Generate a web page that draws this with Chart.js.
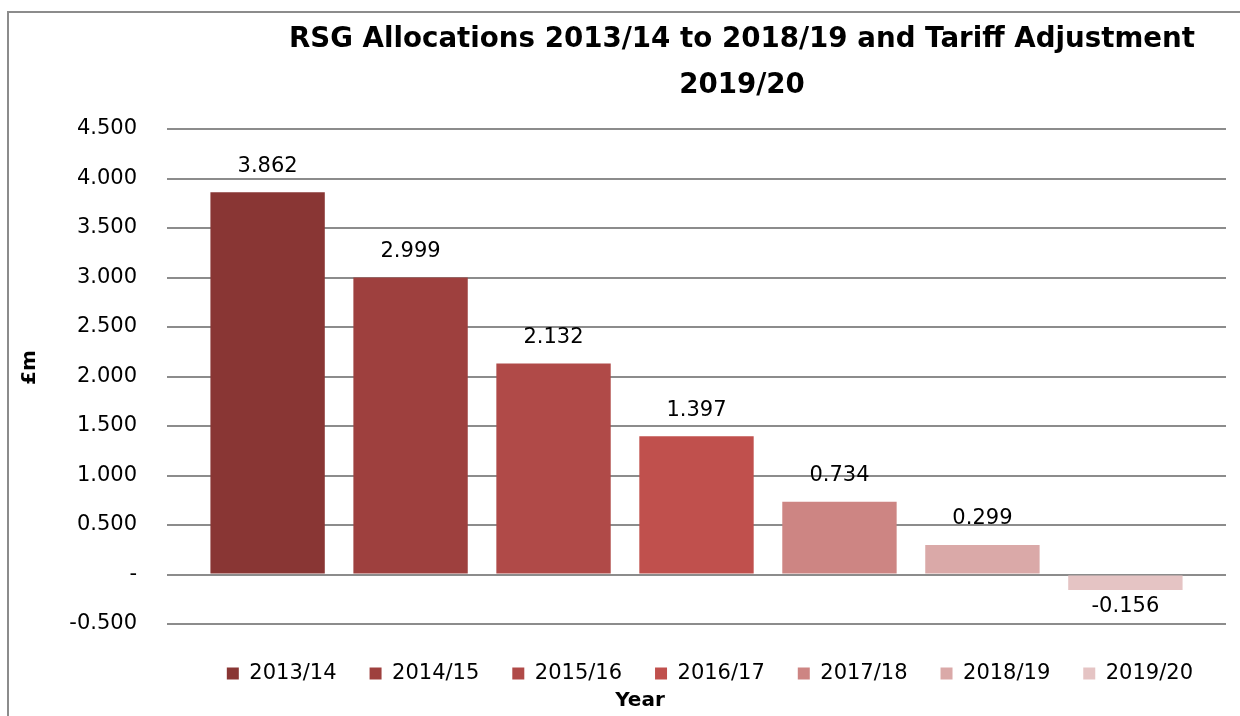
<!DOCTYPE html>
<html>
<head>
<meta charset="utf-8">
<script src="https://cdn.jsdelivr.net/npm/chart.js@4/dist/chart.umd.min.js"></script>
<style>
  html, body { margin: 0; padding: 0; background: #fff; }
  #wrap { position: absolute; left: 0; top: 0; width: 1240px; height: 716px; }
  #frame { position: absolute; left: 7px; top: 11px; width: 1300px; height: 800px;
           border-left: 2px solid #8c8c8c; border-top: 2px solid #8c8c8c; pointer-events: none; }
</style>
</head>
<body>
<div id="wrap">
  <canvas id="rsgChart" width="1240" height="716"></canvas>
  <div id="frame"></div>
</div>
<script>
// data
var years = ['2013/14', '2014/15', '2015/16', '2016/17', '2017/18', '2018/19', '2019/20'];
var allocations = [3.862, 2.999, 2.132, 1.397, 0.734, 0.299, -0.156];
var barColours = ['#893634', '#9e403e', '#b04a48', '#c0504d', '#cd8583', '#daa9a8', '#e5c4c4'];
var titleLines = ['RSG Allocations 2013/14 to 2018/19 and Tariff Adjustment', '2019/20'];

var fontName = '"DejaVu Sans", sans-serif';

var datasets = years.map(function(y, i) {
    return {
        label: y,
        data: [allocations[i]],
        backgroundColor: barColours[i],
        borderWidth: 0,
        barPercentage: 0.8,
        categoryPercentage: 0.945
    };
});

// value labels above (or below) each bar
var valueLabels = {
    id: 'valueLabels',
    afterDatasetsDraw: function(chart) {
        var ctx = chart.ctx;
        ctx.save();
        ctx.font = '21px ' + fontName;
        ctx.fillStyle = '#000';
        ctx.textAlign = 'center';
        ctx.textBaseline = 'middle';
        chart.data.datasets.forEach(function(ds, i) {
            var bar = chart.getDatasetMeta(i).data[0];
            var v = ds.data[0];
            var y = v >= 0 ? bar.y - 26 : bar.y + 17;
            ctx.fillText(v.toFixed(3), bar.x, y);
        });
        ctx.restore();
    }
};

// Excel style title (a bit right of centre), the £m axis title and "Year" under the legend
var extraText = {
    id: 'extraText',
    afterDraw: function(chart) {
        var ctx = chart.ctx;
        var area = chart.chartArea;
        ctx.save();
        ctx.fillStyle = '#000';
        ctx.textAlign = 'center';
        ctx.textBaseline = 'middle';
        ctx.font = 'bold 25px ' + fontName;
        var w = ctx.measureText(titleLines[0]).width;
        var size = Math.round(25 * 905 / w * 10) / 10;
        ctx.font = 'bold ' + size + 'px ' + fontName;
        ctx.fillText(titleLines[0], 742, 40);
        ctx.fillText(titleLines[1], 742, 86);
        ctx.font = 'bold 20px ' + fontName;
        ctx.fillText('Year', 640, 701);
        ctx.translate(30, (area.top + area.bottom) / 2 - 9);
        ctx.rotate(-Math.PI / 2);
        ctx.fillText('£m', 0, 0);
        ctx.restore();
    }
};

var ctx = document.getElementById('rsgChart').getContext('2d');
var rsgChart = new Chart(ctx, {
    type: 'bar',
    data: {
        labels: [''],
        datasets: datasets
    },
    plugins: [valueLabels, extraText],
    options: {
        responsive: false,
        animation: false,
        layout: {
            padding: { top: 129, right: 14, left: 0, bottom: 22 }
        },
        scales: {
            x: {
                display: true,
                grid: { display: false },
                border: { display: false },
                ticks: { display: false },
                afterFit: function(scale) { scale.height = 6; }
            },
            y: {
                min: -0.5,
                max: 4.5,
                border: { display: false },
                grid: { color: '#8c8c8c', lineWidth: 2, drawTicks: false },
                afterFit: function(scale) { scale.width = 167; },
                ticks: {
                    stepSize: 0.5,
                    padding: 30,
                    color: '#000',
                    font: { family: fontName, size: 21 },
                    callback: function(v) {
                        return v === 0 ? '-' : v.toFixed(3);
                    }
                }
            }
        },
        plugins: {
            legend: {
                position: 'bottom',
                fullSize: false,
                align: 'end',
                labels: {
                    boxWidth: 12,
                    boxHeight: 12,
                    padding: 33,
                    color: '#000',
                    font: { family: fontName, size: 21 }
                }
            },
            title: { display: false },
            tooltip: { enabled: false }
        }
    }
});
</script>
</body>
</html>
